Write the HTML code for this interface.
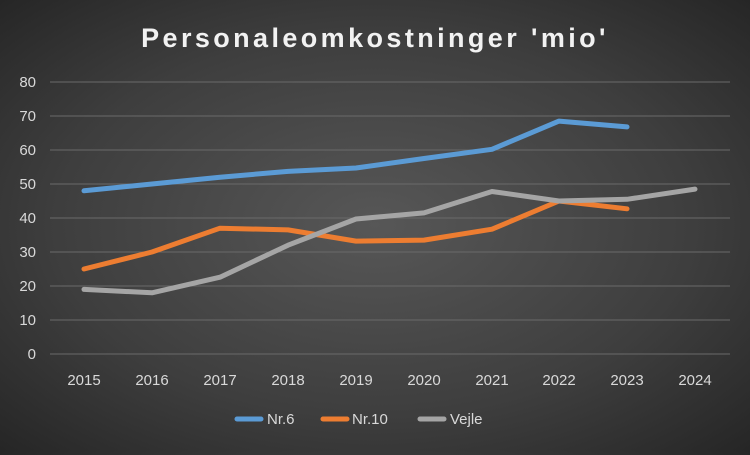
<!DOCTYPE html>
<html><head><style>
html,body{margin:0;padding:0;}
body{width:750px;height:450px;overflow:hidden;background:radial-gradient(ellipse at center,#575757 0%,#3e3e3e 60%,#262626 100%);font-family:"Liberation Sans",sans-serif;}
</style></head><body>
<svg width="750" height="450" xmlns="http://www.w3.org/2000/svg" font-family="Liberation Sans, sans-serif">
<text x="375" y="47" text-anchor="middle" fill="#f2f2f2" font-size="27" font-weight="bold" letter-spacing="3.4">Personaleomkostninger 'mio'</text>
<g stroke="#6a6a6a" stroke-width="1">
<line x1="50" x2="730" y1="82" y2="82"/><line x1="50" x2="730" y1="116" y2="116"/>
<line x1="50" x2="730" y1="150" y2="150"/><line x1="50" x2="730" y1="184" y2="184"/>
<line x1="50" x2="730" y1="218" y2="218"/><line x1="50" x2="730" y1="252" y2="252"/>
<line x1="50" x2="730" y1="286" y2="286"/><line x1="50" x2="730" y1="320" y2="320"/>
<line x1="50" x2="730" y1="354" y2="354"/>
</g>
<g fill="#d9d9d9" font-size="15" text-anchor="end">
<text x="36" y="87">80</text><text x="36" y="121">70</text><text x="36" y="155">60</text>
<text x="36" y="189">50</text><text x="36" y="223">40</text><text x="36" y="257">30</text>
<text x="36" y="291">20</text><text x="36" y="325">10</text><text x="36" y="359">0</text>
</g>
<g fill="#d9d9d9" font-size="15" text-anchor="middle">
<text x="84" y="385">2015</text><text x="152" y="385">2016</text><text x="220" y="385">2017</text>
<text x="288" y="385">2018</text><text x="356" y="385">2019</text><text x="424" y="385">2020</text>
<text x="492" y="385">2021</text><text x="559" y="385">2022</text><text x="627" y="385">2023</text>
<text x="695" y="385">2024</text>
</g>
<g fill="none" stroke-width="5" stroke-linejoin="round" stroke-linecap="round">
<polyline stroke="#5b9bd5" points="84,190.8 152,184 220,177.2 288,171.4 356,168 424,158.5 492,149.3 559,121.1 627,126.9"/>
<polyline stroke="#ed7d31" points="84,269 152,252 220,228.2 288,229.9 356,241.1 424,240.1 492,229.2 559,201 627,208.8"/>
<polyline stroke="#a5a5a5" points="84,289.4 152,292.8 220,277.2 288,245.2 356,219 424,212.9 492,191.5 559,201 627,199.3 695,189.1"/>
</g>
<g stroke-width="5" stroke-linecap="round">
<line x1="237" x2="261" y1="419" y2="419" stroke="#5b9bd5"/>
<line x1="323" x2="347" y1="419" y2="419" stroke="#ed7d31"/>
<line x1="420" x2="444" y1="419" y2="419" stroke="#a5a5a5"/>
</g>
<g fill="#d9d9d9" font-size="15">
<text x="267" y="424">Nr.6</text><text x="352" y="424">Nr.10</text><text x="450" y="424">Vejle</text>
</g>
</svg>
</body></html>
